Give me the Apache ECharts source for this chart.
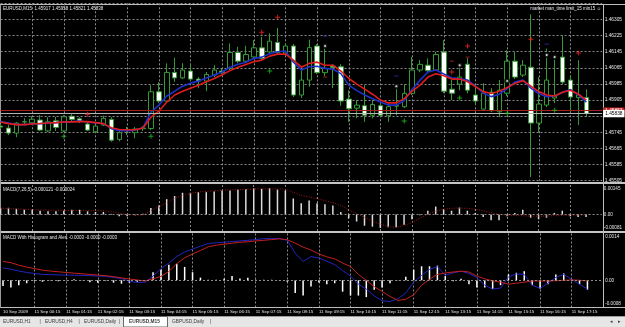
<!DOCTYPE html>
<html>
<head>
<meta charset="utf-8">
<script src="https://cdn.jsdelivr.net/npm/echarts@6/dist/echarts.min.js"></script>
<style>
  html, body { margin: 0; padding: 0; background: #000; }
  #chart { width: 625px; height: 327px; }
</style>
</head>
<body>
<div id="chart"></div>
<script>
const FONT = "Liberation Sans";
const GRID_COLOR = "#8c8c8c";
const TEXT_COLOR = "#e8e8e8";

// hourly time labels, one every 4th M15 bar
const hourLabels = ["10 Sep 2009", "11 Sep 00:15", "11 Sep 01:15", "11 Sep 02:15", "11 Sep 03:15",
  "11 Sep 04:15", "11 Sep 05:15", "11 Sep 06:15", "11 Sep 07:15", "11 Sep 08:15", "11 Sep 09:15",
  "11 Sep 10:15", "11 Sep 11:15", "11 Sep 12:15", "11 Sep 13:15", "11 Sep 14:15", "11 Sep 15:15",
  "11 Sep 16:15", "11 Sep 17:15"];

// EURUSD M15 candles
const openP = [
  1.45776,1.45766,1.45741,1.45796,1.45792,1.45806,1.45752,1.45802,1.45752,1.45825,
  1.45812,1.45786,1.45748,1.45781,1.45809,1.45710,1.45754,1.45743,1.45763,1.45764,
  1.45946,1.45900,1.46042,1.46015,1.46049,1.46009,1.45999,1.46029,1.46049,1.46062,
  1.46141,1.46098,1.46119,1.46164,1.46144,1.46191,1.46138,1.46173,1.45930,1.46004,
  1.46173,1.46041,1.46073,1.46070,1.45910,1.45865,1.45877,1.45830,1.45877,1.45827,
  1.45877,1.45872,1.45938,1.46054,1.46078,1.46054,1.46143,1.45959,1.45984,1.46083,
  1.45930,1.45860,1.45944,1.45847,1.45939,1.46098,1.46029,1.46068,1.45791,1.45880,
  1.45915,1.46118,1.46004,1.45917,1.45917];
const highP = [
  1.45786,1.45781,1.45796,1.45815,1.45825,1.45830,1.45820,1.45822,1.45830,1.45835,
  1.45820,1.45801,1.45781,1.45827,1.45820,1.45756,1.45772,1.45771,1.45776,1.45979,
  1.45994,1.46087,1.46115,1.46088,1.46082,1.46019,1.46044,1.46078,1.46059,1.46186,
  1.46169,1.46174,1.46202,1.46219,1.46236,1.46263,1.46187,1.46183,1.46054,1.46205,
  1.46183,1.46168,1.46083,1.46083,1.45954,1.45905,1.45979,1.45905,1.45905,1.45890,
  1.45964,1.45984,1.46119,1.46103,1.46112,1.46144,1.46202,1.46004,1.46073,1.46113,
  1.45964,1.45989,1.45964,1.46004,1.46153,1.46143,1.46103,1.46330,1.46019,1.46160,
  1.46118,1.46227,1.46029,1.46103,1.45958];
const lowP = [
  1.45761,1.45731,1.45721,1.45781,1.45786,1.45751,1.45746,1.45752,1.45746,1.45801,
  1.45791,1.45751,1.45741,1.45776,1.45698,1.45701,1.45731,1.45716,1.45751,1.45756,
  1.45890,1.45895,1.45996,1.46009,1.45999,1.45964,1.45949,1.46019,1.46034,1.46054,
  1.46088,1.46088,1.46113,1.46103,1.46138,1.46133,1.46128,1.45920,1.45915,1.45971,
  1.46034,1.46024,1.45964,1.45877,1.45797,1.45815,1.45797,1.45814,1.45820,1.45797,
  1.45830,1.45865,1.45930,1.46044,1.46044,1.46049,1.45939,1.45905,1.45954,1.45939,
  1.45880,1.45850,1.45845,1.45820,1.45925,1.46009,1.46019,1.45523,1.45746,1.45870,
  1.45890,1.45984,1.45845,1.45781,1.45821];
const closeP = [
  1.45771,1.45741,1.45791,1.45798,1.45810,1.45756,1.45797,1.45769,1.45822,1.45809,
  1.45799,1.45756,1.45776,1.45814,1.45706,1.45743,1.45757,1.45761,1.45766,1.45946,
  1.45900,1.46042,1.46015,1.46054,1.46009,1.45999,1.46032,1.46054,1.46042,1.46141,
  1.46098,1.46131,1.46164,1.46112,1.46197,1.46141,1.46173,1.45930,1.46004,1.46165,
  1.46041,1.46062,1.46067,1.45900,1.45862,1.45880,1.45830,1.45883,1.45830,1.45872,
  1.45875,1.45938,1.46054,1.46082,1.46051,1.46131,1.45949,1.45939,1.46019,1.45954,
  1.45900,1.45939,1.45852,1.45954,1.46098,1.46019,1.46078,1.45791,1.45885,1.46004,
  1.45925,1.45994,1.45920,1.45930,1.45838];

// moving averages drawn on the price chart
const maRed = [
  1.45796,1.45788,1.45783,1.45783,1.45786,1.45789,1.45791,1.45793,1.45796,1.45797,
  1.45798,1.45798,1.45793,1.45788,1.45768,1.45759,1.45758,1.45758,1.45766,1.45820,
  1.45850,1.45895,1.45930,1.45949,1.45964,1.45979,1.45996,1.46012,1.46031,1.46051,
  1.46068,1.46081,1.46095,1.46103,1.46123,1.46133,1.46133,1.46103,1.46068,1.46087,
  1.46093,1.46078,1.46078,1.46049,1.46012,1.45984,1.45959,1.45934,1.45905,1.45891,
  1.45891,1.45912,1.45949,1.45979,1.46019,1.46036,1.46026,1.46009,1.46009,1.45996,
  1.45972,1.45947,1.45938,1.45949,1.45967,1.45988,1.46001,1.45974,1.45947,1.45930,
  1.45925,1.45944,1.45954,1.45934,1.45905];
const maBlue = [
  1.45798,1.45791,1.45783,1.45783,1.45786,1.45788,1.45791,1.45793,1.45796,1.45798,
  1.45801,1.45796,1.45791,1.45788,1.45763,1.45753,1.45753,1.45756,1.45768,1.45845,
  1.45880,1.45925,1.45949,1.45974,1.45989,1.45999,1.46014,1.46029,1.46044,1.46068,
  1.46083,1.46093,1.46112,1.46118,1.46135,1.46145,1.46148,1.46093,1.46054,1.46070,
  1.46073,1.46062,1.46058,1.46036,1.45979,1.45952,1.45930,1.45912,1.45895,1.45880,
  1.45880,1.45902,1.45959,1.46004,1.46044,1.46054,1.46034,1.46016,1.46011,1.46004,
  1.45974,1.45939,1.45922,1.45934,1.45962,1.45995,1.46004,1.45964,1.45937,1.45922,
  1.45925,1.45944,1.45957,1.45930,1.45895];

// signal arrows / symbols on the price chart: [bar index, price]
const redArrows = [[11, 1.45835], [33, 1.46242], [35, 1.46316], [59, 1.46173], [67, 1.46207], [73, 1.46138], [57, 1.46044]];
const greenArrows = [[8, 1.45726], [19, 1.45726], [34, 1.46049], [51, 1.45801], [58, 1.45915], [64, 1.45840], [70, 1.45855]];
const whiteRings = [[41, 1.46173], [50, 1.45974], [58, 1.46078]];
const greenRings = [[64, 1.45999], [69, 1.46128], [70, 1.46118]];
const blueDashes = [[41, 1.46222], [50, 1.46024], [69, 1.46182]];
const redDashes = [[57, 1.46098], [59, 1.46118], [41, 1.46019]];

const redLevel = 1.45853;
const bidLevel = 1.45838;

// MACD(7,26,5): histogram main + dotted signal
const macdMain = [
  0.000330,0.000330,0.000283,0.000235,0.000235,0.000188,0.000155,0.000155,0.000188,0.000235,
  0.000235,0.000155,0.000127,0.000127,0.000033,-0.000080,-0.000080,-0.000033,0.000033,0.000316,
  0.000438,0.000754,0.000909,0.001069,0.001069,0.001097,0.001097,0.001130,0.001178,0.001178,
  0.001225,0.001258,0.001286,0.001258,0.001286,0.001225,0.001178,0.000787,0.000551,0.000683,
  0.000551,0.000504,0.000438,0.000127,-0.000188,-0.000344,-0.000551,-0.000598,-0.000659,-0.000626,
  -0.000626,-0.000504,-0.000236,-0.000033,0.000188,0.000391,0.000236,0.000188,0.000344,0.000188,
  0.000080,-0.000127,-0.000283,-0.000283,-0.000080,0.000080,0.000236,-0.000155,-0.000236,-0.000155,
  0.000080,0.000188,-0.000080,-0.000127,-0.000121];
const macdSignal = [
  0.000316,0.000292,0.000273,0.000254,0.000236,0.000226,0.000217,0.000207,0.000203,0.000198,
  0.000193,0.000188,0.000188,0.000188,0.000141,0.000071,0.000000,-0.000024,-0.000033,0.000188,
  0.000377,0.000565,0.000801,0.000942,0.001036,0.001107,0.001140,0.001168,0.001196,0.001215,
  0.001225,0.001239,0.001253,0.001258,0.001258,0.001258,0.001248,0.001083,0.000942,0.000862,
  0.000777,0.000683,0.000589,0.000447,0.000236,0.000047,-0.000141,-0.000330,-0.000471,-0.000589,
  -0.000626,-0.000542,-0.000400,-0.000188,0.000024,0.000165,0.000259,0.000306,0.000316,0.000306,
  0.000259,0.000188,0.000094,0.000000,-0.000033,-0.000047,-0.000061,-0.000080,-0.000080,-0.000071,
  -0.000057,-0.000047,-0.000038,-0.000024,-0.000024];

// MACD With Histogram and Alert: histogram, MACD line, signal line
const mhHist = [
  -0.000175,-0.000213,-0.000146,-0.000088,-0.000029,-0.000044,-0.000010,-0.000029,0.000010,0.000029,
  0.000010,-0.000058,-0.000073,-0.000015,-0.000073,-0.000102,-0.000073,-0.000044,-0.000010,0.000242,
  0.000321,0.000467,0.000496,0.000400,0.000242,0.000079,0.000015,0.000015,0.000044,0.000126,
  0.000050,0.000079,0.000015,0.000015,0.000015,-0.000015,-0.000044,-0.000380,-0.000458,-0.000184,
  -0.000067,-0.000117,-0.000088,-0.000342,-0.000458,-0.000458,-0.000505,-0.000283,-0.000213,-0.000088,
  0.000010,0.000108,0.000321,0.000418,0.000418,0.000438,0.000126,-0.000029,0.000044,-0.000117,
  -0.000213,-0.000213,-0.000263,-0.000146,0.000175,0.000225,0.000272,-0.000146,-0.000263,-0.000117,
  0.000175,0.000204,0.000029,-0.000117,-0.000283];
const mhMain = [
  0.000371,0.000330,0.000277,0.000234,0.000204,0.000175,0.000169,0.000161,0.000155,0.000152,
  0.000146,0.000137,0.000128,0.000117,0.000088,0.000050,-0.000029,-0.000067,-0.000058,0.000126,
  0.000342,0.000517,0.000710,0.000847,0.000934,0.001022,0.001101,0.001124,0.001139,0.001159,
  0.001177,0.001197,0.001218,0.001247,0.001247,0.001247,0.001197,0.000809,0.000564,0.000710,
  0.000663,0.000569,0.000467,0.000292,0.000126,-0.000117,-0.000263,-0.000467,-0.000613,-0.000634,
  -0.000555,-0.000380,-0.000058,0.000146,0.000321,0.000409,0.000146,0.000225,0.000272,0.000204,
  0.000079,-0.000146,-0.000263,-0.000234,0.000102,0.000190,0.000175,-0.000146,-0.000242,-0.000088,
  0.000088,0.000175,0.000029,-0.000117,-0.000263];
const mhSignal = [
  0.000564,0.000526,0.000453,0.000394,0.000350,0.000301,0.000277,0.000254,0.000234,0.000213,
  0.000196,0.000175,0.000155,0.000137,0.000108,0.000073,0.000038,0.000009,-0.000020,0.000044,
  0.000117,0.000263,0.000496,0.000672,0.000788,0.000891,0.001002,0.001051,0.001080,0.001110,
  0.001139,0.001153,0.001177,0.001197,0.001218,0.001241,0.001212,0.001110,0.000993,0.000905,
  0.000788,0.000701,0.000642,0.000517,0.000409,0.000175,0.000000,-0.000190,-0.000336,-0.000482,
  -0.000604,-0.000569,-0.000438,-0.000146,0.000029,0.000175,0.000219,0.000248,0.000272,0.000248,
  0.000126,0.000044,-0.000020,-0.000058,-0.000117,-0.000088,-0.000058,-0.000020,-0.000020,-0.000020,
  -0.000015,0.000000,0.000009,0.000000,-0.000020];

// bar times: 10 Sep 23:15 onward in 15 minute steps (2 empty slots for the chart shift)
const barTimes = [];
for (let i = 0; i < 77; i++) {
  const m = 23 * 60 + 15 + i * 15;
  const mm = m % 1440;
  barTimes.push((m >= 1440 ? "11" : "10") + " Sep " +
    String(Math.floor(mm / 60)).padStart(2, "0") + ":" + String(mm % 60).padStart(2, "0"));
}

const gridLeft = 0.55, gridRight = 21.77;

function xAxisFor(gridIndex, showLabels) {
  return {
    type: "category",
    gridIndex: gridIndex,
    data: barTimes,
    boundaryGap: false,
    axisLine: { show: false },
    axisTick: { show: false },
    axisLabel: {
      show: showLabels,
      interval: (i) => i % 4 === 0 && i <= 72,
      formatter: (v, i) => hourLabels[i / 4] || "",
      align: "left",
      color: TEXT_COLOR,
      fontSize: 4.4,
      fontFamily: FONT,
      margin: 2.4
    },
    splitLine: {
      show: true,
      interval: (i) => i % 4 === 0 && i > 0 && i <= 72,
      lineStyle: { color: GRID_COLOR, type: [2, 2], width: 1 }
    }
  };
}

function edgeLabels(top, topText, bottom, bottomText, padTop, padBottom) {
  return {
    customValues: [top, 0, bottom],
    color: TEXT_COLOR,
    fontSize: 4.6,
    fontFamily: FONT,
    margin: 2,
    formatter: (v) => v === top ? "{t|" + topText + "}" : v === bottom ? "{b|" + bottomText + "}" : "0.00",
    rich: {
      t: { padding: [padTop, 0, 0, 0], color: TEXT_COLOR, fontSize: 4.6, fontFamily: FONT },
      b: { padding: [0, 0, padBottom, 0], color: TEXT_COLOR, fontSize: 4.6, fontFamily: FONT }
    }
  };
}

const zeroLine = {
  silent: true, symbol: "none", animation: false,
  label: { show: false },
  lineStyle: { color: GRID_COLOR, type: [2, 2], width: 1 },
  data: [{ yAxis: 0 }]
};

const plus = "path://M2,0H3V2H5V3H3V5H2V3H0V2H2Z";
const titleStyle = { color: TEXT_COLOR, fontSize: 4.5, fontFamily: FONT, fontWeight: "normal" };

function hline(y, color, w) {
  return { type: "line", shape: { x1: 0, y1: y, x2: 625, y2: y }, style: { stroke: color, lineWidth: w }, silent: true };
}
function tabText(x, text, bold) {
  return { type: "text", x: x, y: 321.8, silent: true,
    style: { text: text, fill: "#3a3a3a", font: (bold ? "bold " : "") + "4.8px " + FONT, textVerticalAlign: "middle" } };
}

const myChart = echarts.init(document.getElementById("chart"));
const options = {
  animation: false,
  backgroundColor: "#000000",
  title: [
    { text: "EURUSD,M15  1.45917 1.45958 1.45821 1.45838", left: 3, top: 6, padding: 0, textStyle: titleStyle },
    { text: "market man_time limit_15 min15 \u263a", right: 24, top: 6.3, padding: 0, textStyle: titleStyle },
    { text: "MACD(7,26,5) -0.000121 -0.000024", left: 3, top: 187, padding: 0, textStyle: titleStyle },
    { text: "MACD With Histogram and Alert -0.0003 -0.0000 -0.0003", left: 3, top: 235.5, padding: 0, textStyle: titleStyle }
  ],
  grid: [
    { left: gridLeft, right: gridRight, top: 3.3, height: 177.4 },
    { left: gridLeft, right: gridRight, top: 185, height: 46 },
    { left: gridLeft, right: gridRight, top: 233.5, height: 73.5 }
  ],
  xAxis: [xAxisFor(0, false), xAxisFor(1, false), xAxisFor(2, true)],
  yAxis: [
    {
      type: "value", gridIndex: 0, position: "right",
      min: 1.45505, max: 1.46385, interval: 0.0008,
      axisLine: { show: false }, axisTick: { show: false },
      axisLabel: {
        color: TEXT_COLOR, fontSize: 4.8, fontFamily: FONT, margin: 2.5, showMaxLabel: false,
        formatter: (v) => Math.abs(v - 1.45825) < 1e-6 ? "" : v.toFixed(5)
      },
      splitLine: { lineStyle: { color: GRID_COLOR, type: [2, 2], width: 1 } }
    },
    {
      type: "value", gridIndex: 1, position: "right", min: -0.00081, max: 0.00145,
      axisLine: { show: false }, axisTick: { show: false }, splitLine: { show: false },
      axisLabel: edgeLabels(0.00145, "0.00145", -0.00081, "-0.00081", 8, 7)
    },
    {
      type: "value", gridIndex: 2, position: "right", min: -0.0008, max: 0.0014,
      axisLine: { show: false }, axisTick: { show: false }, splitLine: { show: false },
      axisLabel: edgeLabels(0.0014, "0.0014", -0.0008, "-0.0008", 6, 6)
    }
  ],
  series: [
    {
      type: "candlestick", xAxisIndex: 0, yAxisIndex: 0, barWidth: 5,
      data: openP.map((o, i) => [o, closeP[i], lowP[i], highP[i]]),
      itemStyle: { color: "#000000", color0: "#ffffff", borderColor: "#359a35", borderColor0: "#359a35", borderWidth: 1 },
      markLine: {
        silent: true, symbol: "none", animation: false, precision: 5,
        data: [
          {
            yAxis: redLevel,
            lineStyle: { color: "#a81c1c", width: 1, type: "solid" },
            label: { show: true, position: "end", distance: 1, formatter: redLevel.toFixed(5),
              color: "#ffffff", backgroundColor: "#c01818", padding: [0.6, 2], fontSize: 4.8, fontFamily: FONT }
          },
          {
            yAxis: bidLevel,
            lineStyle: { color: "#b4b4b4", width: 1, type: "solid" },
            label: { show: true, position: "end", distance: 1, formatter: bidLevel.toFixed(5),
              color: "#000000", backgroundColor: "#ffffff", padding: [1.2, 2], fontSize: 4.8, fontFamily: FONT }
          }
        ]
      }
    },
    { type: "line", xAxisIndex: 0, yAxisIndex: 0, data: maBlue, symbol: "none", z: 3,
      lineStyle: { color: "#2030c8", width: 1.6 } },
    { type: "line", xAxisIndex: 0, yAxisIndex: 0, data: maRed, symbol: "none", z: 4,
      lineStyle: { color: "#e01c1c", width: 1.6 } },
    { type: "scatter", xAxisIndex: 0, yAxisIndex: 0, data: redArrows, symbol: plus, symbolSize: 5, z: 5,
      itemStyle: { color: "#ff2424" } },
    { type: "scatter", xAxisIndex: 0, yAxisIndex: 0, data: greenArrows, symbol: plus, symbolSize: 5, z: 5,
      itemStyle: { color: "#22c422" } },
    { type: "scatter", xAxisIndex: 0, yAxisIndex: 0, data: whiteRings, symbol: "emptyCircle", symbolSize: 4, z: 5,
      itemStyle: { color: "#000000", borderColor: "#e8e8e8", borderWidth: 1 } },
    { type: "scatter", xAxisIndex: 0, yAxisIndex: 0, data: greenRings, symbol: "emptyCircle", symbolSize: 4, z: 5,
      itemStyle: { color: "#000000", borderColor: "#7ad07a", borderWidth: 1 } },
    { type: "scatter", xAxisIndex: 0, yAxisIndex: 0, data: blueDashes, symbol: "rect", symbolSize: [4, 1.2], z: 5,
      itemStyle: { color: "#2a2a9a" } },
    { type: "scatter", xAxisIndex: 0, yAxisIndex: 0, data: redDashes, symbol: "rect", symbolSize: [4, 1.2], z: 5,
      itemStyle: { color: "#a02020" } },

    { type: "bar", xAxisIndex: 1, yAxisIndex: 1, data: macdMain, barWidth: 1.5,
      itemStyle: { color: "#dcdcdc" }, markLine: zeroLine },
    { type: "line", xAxisIndex: 1, yAxisIndex: 1, data: macdSignal, symbol: "none", z: 3,
      lineStyle: { color: "#a01818", width: 1, type: [1, 1.5] } },

    { type: "bar", xAxisIndex: 2, yAxisIndex: 2, data: mhHist, barWidth: 1.5,
      itemStyle: { color: "#ffffff" }, markLine: zeroLine },
    { type: "line", xAxisIndex: 2, yAxisIndex: 2, data: mhMain, symbol: "none", z: 3,
      lineStyle: { color: "#2424c0", width: 1 } },
    { type: "line", xAxisIndex: 2, yAxisIndex: 2, data: mhSignal, symbol: "none", z: 4,
      lineStyle: { color: "#c42020", width: 1 } }
  ],
  graphic: [
    hline(4.5, "#bdbdbd", 1),
    hline(183, "#c4c4c4", 2),
    hline(232, "#c4c4c4", 2),
    hline(307.5, "#bdbdbd", 1),
    { type: "line", shape: { x1: 603.5, y1: 4.5, x2: 603.5, y2: 307.5 }, style: { stroke: "#bdbdbd", lineWidth: 1 }, silent: true },
    { type: "line", shape: { x1: 0.5, y1: 4.5, x2: 0.5, y2: 307.5 }, style: { stroke: "#9a9a9a", lineWidth: 1 }, silent: true },
    { type: "rect", shape: { x: 0, y: 316, width: 625, height: 11 }, style: { fill: "#e6e6e6" }, silent: true },
    hline(316.5, "#9c9c9c", 1),
    { type: "rect", shape: { x: 123.5, y: 316.5, width: 44, height: 10.5 }, style: { fill: "#ffffff", stroke: "#6a6a6a", lineWidth: 1 }, silent: true },
    tabText(3, "EURUSD,H1"),
    tabText(39.5, "|"),
    tabText(45, "EURUSD,H4"),
    tabText(78.5, "|"),
    tabText(84, "EURUSD,Daily"),
    tabText(119, "|"),
    tabText(129, "EURUSD,M15", true),
    tabText(172, "GBPUSD,Daily"),
    tabText(210, "|"),
    tabText(610, "\u25c2"),
    tabText(618, "\u25b8")
  ]
};
if (options && typeof options === "object") myChart.setOption(options);
</script>
</body>
</html>
